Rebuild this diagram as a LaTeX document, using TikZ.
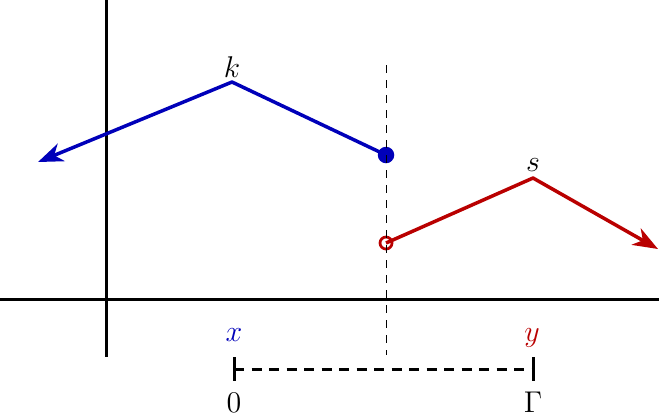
\documentclass[tikz,border=0pt]{standalone}
\usetikzlibrary{arrows.meta}
\definecolor{myblue}{RGB}{0,0,185}
\definecolor{myred}{RGB}{185,0,0}
\tikzset{
  axis/.style={line width=1.2pt},
  bluepath/.style={myblue,line width=1.4pt},
  redpath/.style={myred,line width=1.4pt},
  tip/.style={-{Stealth[length=10pt,width=7.5pt,inset=3pt]}},
  guide/.style={dashed,line width=0.4pt},
  lbl/.style={inner sep=0pt,font=\large}
}
\begin{document}
\begin{tikzpicture}[x=0.4pt,y=-0.4pt]
\useasboundingbox (0,0) rectangle (659,416);
% axes
\coordinate (vt) at (106,0);
\coordinate (vb) at (106,357);
\coordinate (hl) at (0,299);
\coordinate (hr) at (659,299);
\draw[axis] (vt) -- (vb);
\draw[axis] (hl) -- (hr);
% blue path
\coordinate (bend) at (386,155);
\coordinate (kpt) at (232,82);
\coordinate (btip) at (38,162);
\draw[bluepath,tip,line join=round] (bend) -- (kpt) -- (btip);
\fill[myblue] (bend) circle[radius=3.3pt];
\node[lbl,anchor=base] (k) at (232,77) {$k$};
% red path
\coordinate (rstart) at (386,243);
\coordinate (spt) at (533,178);
\coordinate (rtip) at (658,249);
\draw[redpath,tip,line join=round] (rstart) -- (spt) -- (rtip);
\draw[myred,line width=1.1pt] (rstart) circle[radius=2.4pt];
\node[lbl,anchor=base] (s) at (533,171) {$s$};
% dashed guide
\coordinate (gt) at (386,65);
\coordinate (gb) at (386,355);
\draw[guide] (gt) -- (gb);
% interval
\coordinate (a) at (234,369);
\coordinate (b) at (533,369);
\coordinate (at) at (234,357);
\coordinate (ab) at (234,381);
\coordinate (bt) at (533,357);
\coordinate (bb) at (533,381);
\draw[line width=1.2pt,dash pattern=on 4pt off 3pt] (a) -- (b);
\draw[line width=1.2pt] (at) -- (ab);
\draw[line width=1.2pt] (bt) -- (bb);
\node[lbl,anchor=base,myblue] (x) at (234,341) {$x$};
\node[lbl,anchor=base,myred] (y) at (532,341) {$y$};
\node[lbl,anchor=base] (zero) at (234,412) {$0$};
\node[lbl,anchor=base] (gam) at (533,412) {$\Gamma$};
\end{tikzpicture}
\end{document}
